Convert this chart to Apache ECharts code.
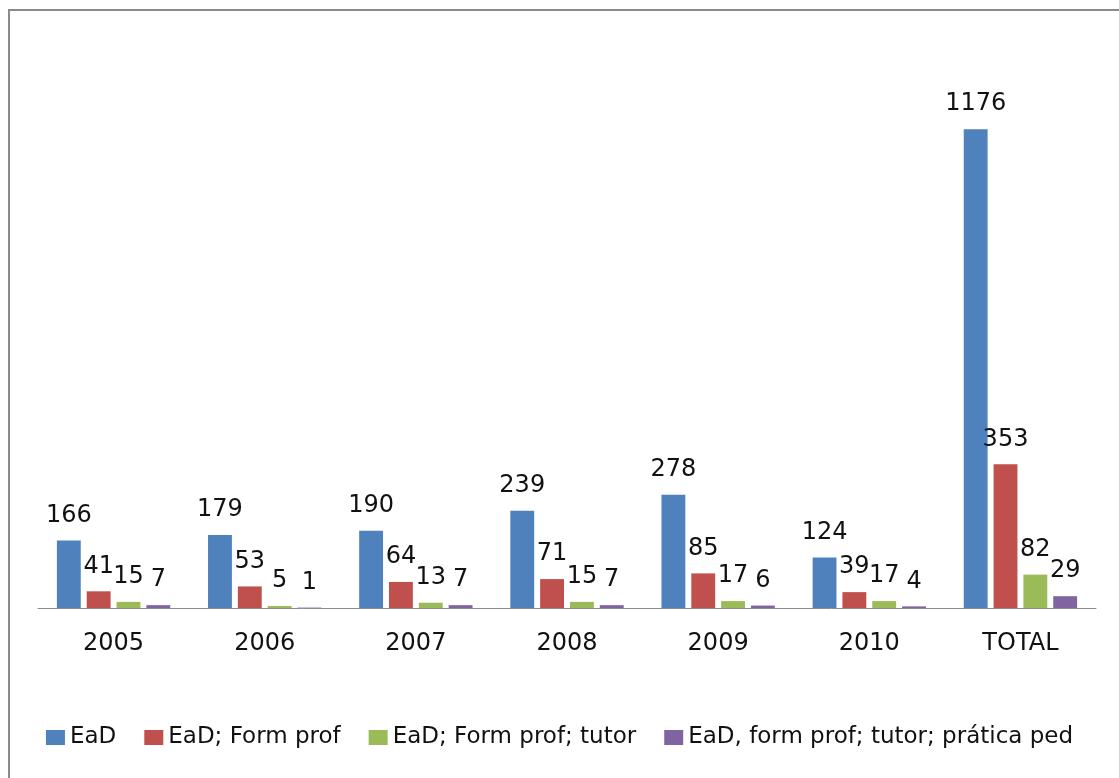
<!DOCTYPE html>
<html>
<head>
<meta charset="utf-8">
<script src="https://cdn.jsdelivr.net/npm/echarts@6/dist/echarts.min.js"></script>
<style>
html,body{margin:0;padding:0;background:#fff;}
#chart{width:1119px;height:778px;}
</style>
</head>
<body>
<div id="chart"></div>
<script>
const categories = ['2005','2006','2007','2008','2009','2010','TOTAL'];
const seriesNames = ['EaD','EaD; Form prof','EaD; Form prof; tutor','EaD, form prof; tutor; prática ped'];
const eadValues = [166,179,190,239,278,124,1176];
const formProfValues = [41,53,64,71,85,39,353];
const tutorValues = [15,5,13,15,17,17,82];
const praticaValues = [7,1,7,7,6,4,29];
const colors = ['#4F81BD','#C0504D','#9BBB59','#8064A2'];

const allValues = [eadValues, formProfValues, tutorValues, praticaValues];
const FONT = 'DejaVu Sans';

const chart = echarts.init(document.getElementById('chart'));
chart.setOption({
  animation:false,
  backgroundColor:'#fff',
  textStyle:{fontFamily:FONT},
  graphic:[{
    type:'rect',
    shape:{x:9,y:10,width:1300,height:1000},
    style:{fill:'none',stroke:'#8a8a8a',lineWidth:2},
    silent:true
  }],
  grid:{left:38,right:23,top:38,bottom:170,containLabel:false},
  legend:{
    top:721,
    left:'center',
    itemWidth:19,
    itemHeight:15,
    itemGap:28,
    icon:'rect',
    textStyle:{fontFamily:FONT,fontSize:23,color:'#111'},
    data:seriesNames
  },
  xAxis:{
    type:'category',
    data:categories,
    axisLine:{lineStyle:{color:'#8c8c8c',width:1}},
    axisTick:{show:false},
    axisLabel:{fontFamily:FONT,fontSize:24,color:'#111',margin:24}
  },
  yAxis:{
    type:'value',
    min:0,max:1400,interval:200,
    show:false,
    splitLine:{show:false}
  },
  series: seriesNames.map((n,i)=>({
    name:n,
    type:'bar',
    data:allValues[i],
    barGap:'25%',
    barCategoryGap:'25%',
    itemStyle:{color:colors[i]},
    label:{show:true,position:'top',distance:13,fontFamily:FONT,fontSize:24,color:'#111'}
  }))
});
</script>
</body>
</html>
